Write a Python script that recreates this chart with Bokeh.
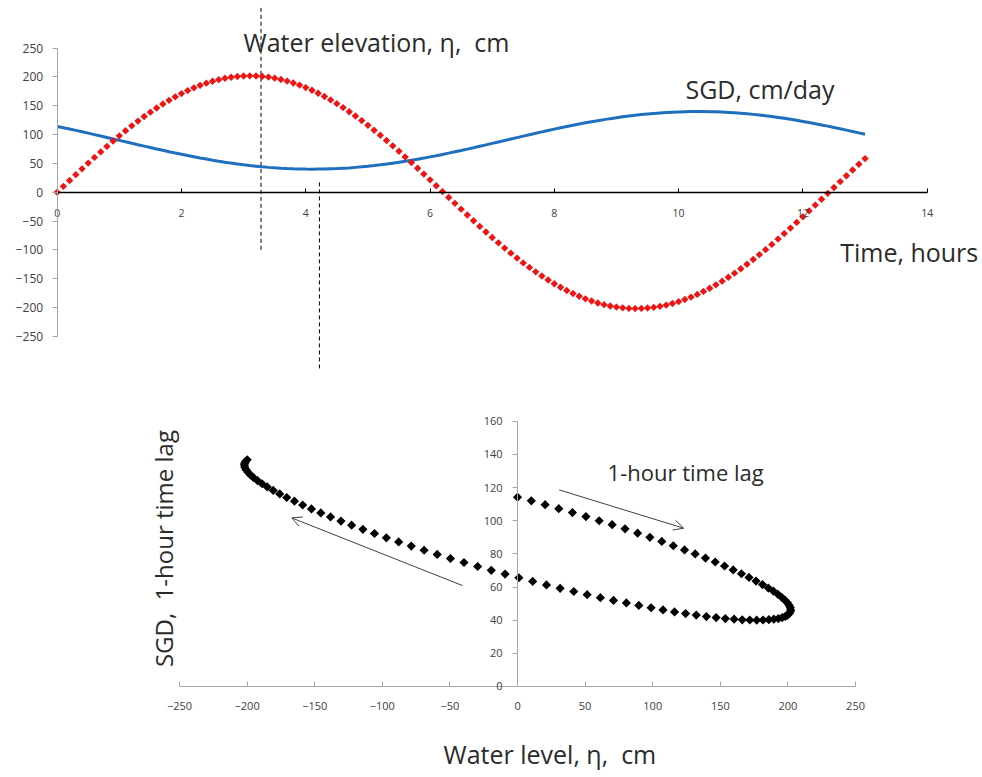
import math
from bokeh.plotting import figure
from bokeh.layouts import column
from bokeh.models import Range1d, FixedTicker, Label, Arrow, OpenHead, LinearAxis
from bokeh.embed import file_html
from bokeh.resources import INLINE

# ---------------- data ----------------
time_h = [
    0.0, 0.1, 0.2, 0.3, 0.4, 0.5, 0.6, 0.7, 0.8, 0.9,
    1.0, 1.1, 1.2, 1.3, 1.4, 1.5, 1.6, 1.7, 1.8, 1.9,
    2.0, 2.1, 2.2, 2.3, 2.4, 2.5, 2.6, 2.7, 2.8, 2.9,
    3.0, 3.1, 3.2, 3.3, 3.4, 3.5, 3.6, 3.7, 3.8, 3.9,
    4.0, 4.1, 4.2, 4.3, 4.4, 4.5, 4.6, 4.7, 4.8, 4.9,
    5.0, 5.1, 5.2, 5.3, 5.4, 5.5, 5.6, 5.7, 5.8, 5.9,
    6.0, 6.1, 6.2, 6.3, 6.4, 6.5, 6.6, 6.7, 6.8, 6.9,
    7.0, 7.1, 7.2, 7.3, 7.4, 7.5, 7.6, 7.7, 7.8, 7.9,
    8.0, 8.1, 8.2, 8.3, 8.4, 8.5, 8.6, 8.7, 8.8, 8.9,
    9.0, 9.1, 9.2, 9.3, 9.4, 9.5, 9.6, 9.7, 9.8, 9.9,
    10.0, 10.1, 10.2, 10.3, 10.4, 10.5, 10.6, 10.7, 10.8, 10.9,
    11.0, 11.1, 11.2, 11.3, 11.4, 11.5, 11.6, 11.7, 11.8, 11.9,
    12.0, 12.1, 12.2, 12.3, 12.4, 12.5, 12.6, 12.7, 12.8, 12.9,
    13.0,
]

water_elevation_cm = [
    0.0, 10.2, 20.4, 30.5, 40.6, 50.6, 60.4, 70.0, 79.5, 88.8,
    97.9, 106.7, 115.2, 123.5, 131.4, 139.0, 146.2, 153.1, 159.5, 165.6,
    171.2, 176.4, 181.2, 185.5, 189.3, 192.6, 195.4, 197.8, 199.6, 200.9,
    201.7, 202.0, 201.8, 201.0, 199.8, 198.0, 195.7, 192.9, 189.6, 185.9,
    181.6, 176.9, 171.8, 166.2, 160.2, 153.7, 146.9, 139.7, 132.2, 124.3,
    116.1, 107.6, 98.8, 89.7, 80.5, 71.0, 61.3, 51.5, 41.6, 31.5,
    21.4, 11.2, 1.0, -9.2, -19.4, -29.5, -39.6, -49.6, -59.4, -69.1,
    -78.6, -87.9, -97.0, -105.8, -114.4, -122.7, -130.6, -138.3, -145.5, -152.4,
    -158.9, -165.0, -170.7, -175.9, -180.7, -185.1, -188.9, -192.3, -195.2, -197.6,
    -199.4, -200.8, -201.7, -202.0, -201.8, -201.1, -199.9, -198.2, -196.0, -193.2,
    -190.0, -186.3, -182.1, -177.4, -172.3, -166.7, -160.8, -154.4, -147.6, -140.5,
    -132.9, -125.1, -116.9, -108.4, -99.7, -90.6, -81.4, -71.9, -62.3, -52.5,
    -42.6, -32.5, -22.4, -12.2, -2.0, 8.2, 18.4, 28.5, 38.6, 48.6,
    58.4,
]

sgd_cm_per_day = [
    114.2, 112.0, 109.7, 107.3, 104.9, 102.5, 100.0, 97.6, 95.1, 92.5,
    90.0, 87.5, 84.9, 82.4, 80.0, 77.5, 75.1, 72.7, 70.3, 68.0,
    65.8, 63.6, 61.5, 59.4, 57.5, 55.6, 53.8, 52.1, 50.5, 49.0,
    47.6, 46.3, 45.2, 44.1, 43.1, 42.3, 41.6, 41.0, 40.6, 40.3,
    40.1, 40.0, 40.1, 40.2, 40.6, 41.0, 41.6, 42.2, 43.1, 44.0,
    45.0, 46.2, 47.5, 48.9, 50.4, 51.9, 53.6, 55.4, 57.3, 59.2,
    61.3, 63.4, 65.6, 67.8, 70.1, 72.4, 74.8, 77.2, 79.7, 82.2,
    84.7, 87.2, 89.7, 92.3, 94.8, 97.3, 99.8, 102.3, 104.7, 107.1,
    109.5, 111.8, 114.0, 116.2, 118.3, 120.4, 122.3, 124.2, 126.0, 127.7,
    129.3, 130.8, 132.2, 133.6, 134.7, 135.8, 136.8, 137.6, 138.3, 138.9,
    139.4, 139.7, 139.9, 140.0, 140.0, 139.8, 139.5, 139.1, 138.5, 137.8,
    137.0, 136.1, 135.1, 133.9, 132.6, 131.3, 129.8, 128.2, 126.5, 124.8,
    122.9, 121.0, 118.9, 116.8, 114.7, 112.4, 110.1, 107.8, 105.4, 103.0,
    100.5,
]

loop_count = 97  # points of the water-level / SGD loop (lower panel)

time_ticks = [0, 2, 4, 6, 8, 10, 12, 14]
elevation_ticks = [-250, -200, -150, -100, -50, 0, 50, 100, 150, 200, 250]
level_ticks = [-250, -200, -150, -100, -50, 0, 50, 100, 150, 200, 250]
sgd_ticks = [0, 20, 40, 60, 80, 100, 120, 140, 160]

# guide lines in the upper panel (hours)
guide_peak_time = 3.28
guide_min_time = 4.22

# ---------------- styles ----------------
FONT = "Open Sans"
RED = "#ee1414"
BLUE = "#1f6fbf"
TEXT = "#2b2b2b"
TICK_TEXT = "#404040"
GRAY_AXIS = "#a6a6a6"
NB = "\u00a0"

W = 982
TOP_H = 380
BOT_H = 397


def style_axis(ax, line_color, tick_in, tick_out, font_size, standoff, line_width=1):
    ax.axis_line_color = line_color
    ax.axis_line_width = line_width
    ax.major_tick_line_color = line_color
    ax.major_tick_in = tick_in
    ax.major_tick_out = tick_out
    ax.minor_tick_line_color = None
    ax.major_label_text_font = FONT
    ax.major_label_text_font_size = font_size
    ax.major_label_text_color = TICK_TEXT
    ax.major_label_standoff = standoff


def bare_figure(height, xr, yr):
    f = figure(width=W, height=height, output_backend="svg", toolbar_location=None,
               x_range=Range1d(*xr), y_range=Range1d(*yr),
               x_axis_location=None, y_axis_location=None, min_border=0)
    f.center = []  # no grid lines
    f.outline_line_color = None
    f.background_fill_color = "white"
    f.border_fill_color = "white"
    return f


# ---------------- upper panel ----------------
top = bare_figure(TOP_H, (-0.912, 14.89), (-326.9, 332.8))

xa = LinearAxis(fixed_location=0, ticker=FixedTicker(ticks=time_ticks), bounds=(0, 14))
style_axis(xa, "black", 4, 0, "10.5px", 17, line_width=1.5)
top.add_layout(xa, "below")

ya = LinearAxis(fixed_location=0, ticker=FixedTicker(ticks=elevation_ticks), bounds=(-250, 250))
style_axis(ya, GRAY_AXIS, 0, 5, "12px", 9)
top.add_layout(ya, "left")

top.segment(x0=[guide_peak_time], y0=[320], x1=[guide_peak_time], y1=[-101],
            line_color="black", line_width=1, line_dash="4 3")
top.segment(x0=[guide_min_time], y0=[17], x1=[guide_min_time], y1=[-310],
            line_color="black", line_width=1, line_dash="4 3")

top.line(time_h, sgd_cm_per_day, line_color=BLUE, line_width=3)
top.scatter(time_h, water_elevation_cm, marker="square", angle=math.pi / 4,
            size=5.2, fill_color=RED, line_color=None)

top.add_layout(Label(x=3.0, y=260.0, text="Water elevation, η," + NB + " cm", text_font=FONT,
                     text_font_size="25px", text_color=TEXT, text_baseline="alphabetic"))
top.add_layout(Label(x=10.11, y=179.0, text="SGD, cm/day", text_font=FONT,
                     text_font_size="25px", text_color=TEXT, text_baseline="alphabetic"))
top.add_layout(Label(x=12.6, y=-104.0, text="Time, hours", text_font=FONT,
                     text_font_size="25px", text_color=TEXT, text_baseline="alphabetic"))

# ---------------- lower panel ----------------
bot = bare_figure(BOT_H, (-382.4, 343.9), (-54.9, 184.6))

bxa = LinearAxis(fixed_location=0, ticker=FixedTicker(ticks=level_ticks), bounds=(-250, 250))
style_axis(bxa, GRAY_AXIS, 5, 0, "11px", 16)
bot.add_layout(bxa, "below")

bya = LinearAxis(fixed_location=0, ticker=FixedTicker(ticks=sgd_ticks), bounds=(0, 160))
style_axis(bya, GRAY_AXIS, 0, 5, "11px", 10)
bot.add_layout(bya, "left")

bot.scatter(water_elevation_cm[:loop_count], sgd_cm_per_day[:loop_count],
            marker="square", angle=math.pi / 4, size=6.5,
            fill_color="black", line_color=None)

bot.add_layout(Arrow(end=OpenHead(size=10, line_color="#404040", line_width=1),
                     x_start=30.8, y_start=118.6, x_end=122.9, y_end=95.5,
                     line_color="#404040", line_width=1))
bot.add_layout(Arrow(end=OpenHead(size=10, line_color="#404040", line_width=1),
                     x_start=-40.7, y_start=60.9, x_end=-167.0, y_end=101.7,
                     line_color="#404040", line_width=1))

bot.add_layout(Label(x=66.6, y=129.5, text="1-hour time lag", text_font=FONT,
                     text_font_size="22px", text_color=TEXT, text_baseline="alphabetic"))
bot.add_layout(Label(x=-54.7, y=-41.0, text="Water level, η," + NB + " cm", text_font=FONT,
                     text_font_size="25px", text_color=TEXT, text_baseline="alphabetic"))
bot.add_layout(Label(x=-261.8, y=83.2, text="SGD," + NB + " 1-hour time lag", text_font=FONT,
                     text_font_size="24px", text_color=TEXT, text_baseline="alphabetic",
                     text_align="center", angle=math.pi / 2))

layout = column(top, bot, spacing=0)
open("out.html", "w").write(file_html(layout, INLINE))
